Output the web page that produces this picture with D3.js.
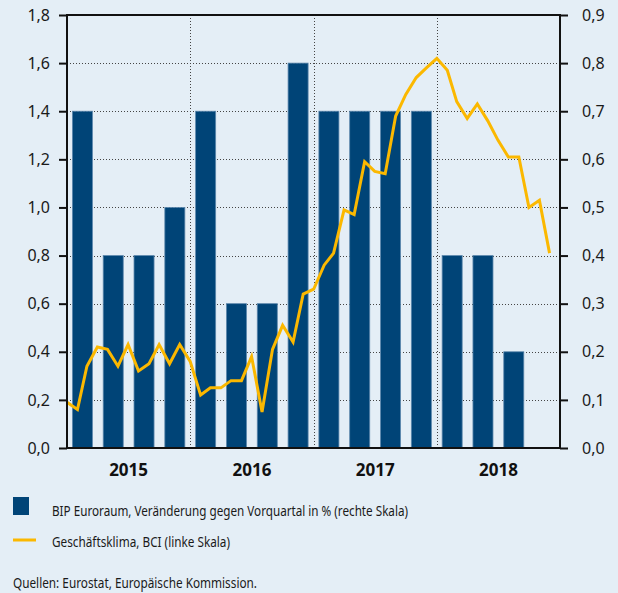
<!DOCTYPE html>
<html>
<head>
<meta charset="utf-8">
<script src="https://cdn.jsdelivr.net/npm/d3@7"></script>
<style>
  body { margin: 0; background: #e4eef6; }
  svg { display: block; }
  .tick text { font-family: "Noto Sans", sans-serif; font-size: 16px; fill: #1a1a1a; }
  .legend text { font-family: "Noto Sans", sans-serif; font-size: 15px; fill: #1a1a1a; }
</style>
</head>
<body>
<script>
// quarters (bars) and BIP growth in % (right scale)
var quarters = ["2015-Q1","2015-Q2","2015-Q3","2015-Q4","2016-Q1","2016-Q2","2016-Q3","2016-Q4",
                "2017-Q1","2017-Q2","2017-Q3","2017-Q4","2018-Q1","2018-Q2","2018-Q3","2018-Q4"];
var bipValues = [0.7, 0.4, 0.4, 0.5, 0.7, 0.3, 0.3, 0.8, 0.7, 0.7, 0.7, 0.7, 0.4, 0.4, 0.2];

// monthly business climate indicator (left scale), Jan 2015 onwards
var bciValues = [0.19, 0.16, 0.34, 0.42, 0.41, 0.34, 0.43, 0.32, 0.35, 0.43, 0.35, 0.43,
                 0.36, 0.22, 0.25, 0.25, 0.28, 0.28, 0.38, 0.15, 0.41, 0.51, 0.44, 0.64,
                 0.66, 0.76, 0.81, 0.99, 0.97, 1.19, 1.15, 1.14, 1.38, 1.47, 1.54, 1.58,
                 1.62, 1.57, 1.44, 1.37, 1.43, 1.36, 1.28, 1.21, 1.21, 1.00, 1.03, 0.81];

var years = ["2015", "2016", "2017", "2018"];
var leftTicks = [0, 0.2, 0.4, 0.6, 0.8, 1.0, 1.2, 1.4, 1.6, 1.8];
var rightTicks = [0, 0.1, 0.2, 0.3, 0.4, 0.5, 0.6, 0.7, 0.8, 0.9];

var width = 618, height = 593;
var pLeft = 67, pRight = 560, pTop = 15, pBottom = 448;

var svg = d3.select("body").append("svg").attr("width", width).attr("height", height);

var x = d3.scaleTime()
          .domain([new Date(2015, 0, 1), new Date(2019, 0, 1)])
          .range([pLeft, pRight]);
var xq = d3.scaleBand().domain(quarters).range([pLeft, pRight])
           .paddingInner(0.35).paddingOuter(0.175);
var yL = d3.scaleLinear().domain([0, 1.8]).range([pBottom, pTop]);
var yR = d3.scaleLinear().domain([0, 0.9]).range([pBottom, pTop]);

var fmt = function(d){ return d3.format(".1f")(d).replace(".", ","); };

// grid
var grid = svg.append("g").attr("stroke", "#444").attr("stroke-width", 1)
              .attr("stroke-dasharray", "1,2");
grid.selectAll("line.h").data(leftTicks.slice(1, -1)).enter().append("line")
    .attr("x1", pLeft).attr("x2", pRight)
    .attr("y1", function(d){ return Math.round(yL(d)) + 0.5; })
    .attr("y2", function(d){ return Math.round(yL(d)) + 0.5; });
grid.selectAll("line.v").data(years.slice(1)).enter().append("line")
    .attr("y1", pTop).attr("y2", pBottom)
    .attr("x1", function(d){ return Math.round(x(new Date(+d, 0, 1))) + 0.5; })
    .attr("x2", function(d){ return Math.round(x(new Date(+d, 0, 1))) + 0.5; });

// bars
svg.append("g").selectAll("rect").data(bipValues).enter().append("rect")
    .attr("x", function(d, i){ return xq(quarters[i]); })
    .attr("width", xq.bandwidth())
    .attr("y", function(d){ return yR(d); })
    .attr("height", function(d){ return pBottom - yR(d); })
    .attr("fill", "#004477")
    .attr("stroke", "#5d88ad").attr("stroke-width", 0.8);

// line
var months = d3.timeMonth.range(new Date(2015, 0, 1), new Date(2015, bciValues.length, 1));
var line = d3.line()
             .x(function(d, i){ return x(months[i]); })
             .y(function(d){ return yL(d); });
svg.append("path").datum(bciValues)
   .attr("fill", "none").attr("stroke", "#fbb800")
   .attr("stroke-width", 3).attr("stroke-linejoin", "miter")
   .attr("d", line);

// axes
var axL = svg.append("g").attr("transform", "translate(" + pLeft + ",0)")
   .call(d3.axisLeft(yL).tickValues(leftTicks).tickFormat(fmt).tickSize(8).tickPadding(9));
var axR = svg.append("g").attr("transform", "translate(" + pRight + ",0)")
   .call(d3.axisRight(yR).tickValues(rightTicks).tickFormat(fmt).tickSize(8).tickPadding(14));
[axL, axR].forEach(function(a){
  a.select(".domain").remove();
  a.selectAll(".tick line").attr("stroke", "#111").attr("stroke-width", 2);
});

var frame = svg.append("g").attr("stroke", "#111").attr("stroke-width", 2);
frame.append("line").attr("x1", pLeft).attr("x2", pLeft).attr("y1", pTop - 1).attr("y2", pBottom + 1);
frame.append("line").attr("x1", pRight).attr("x2", pRight).attr("y1", pTop - 1).attr("y2", pBottom + 1);
frame.append("line").attr("x1", pLeft).attr("x2", pRight).attr("y1", pTop).attr("y2", pTop);
frame.append("line").attr("x1", pLeft).attr("x2", pRight).attr("y1", pBottom).attr("y2", pBottom);

// year labels
svg.append("g").selectAll("text").data(years).enter().append("text")
   .attr("x", function(d){ return (x(new Date(+d, 0, 1)) + x(new Date(+d + 1, 0, 1))) / 2; })
   .attr("y", 476)
   .attr("text-anchor", "middle")
   .style("font-family", "'Noto Sans', sans-serif")
   .style("font-weight", "bold").style("font-size", "17px").style("fill", "#111")
   .text(function(d){ return d; });

// legend (condensed look via textLength)
var lg = svg.append("g").attr("class", "legend");
lg.append("rect").attr("x", 13).attr("y", 497).attr("width", 16).attr("height", 18).attr("fill", "#004477");
lg.append("text").attr("x", 52).attr("y", 516)
  .attr("textLength", 356).attr("lengthAdjust", "spacingAndGlyphs")
  .text("BIP Euroraum, Veränderung gegen Vorquartal in % (rechte Skala)");
lg.append("line").attr("x1", 13).attr("x2", 36).attr("y1", 540).attr("y2", 540)
  .attr("stroke", "#fbb800").attr("stroke-width", 3);
lg.append("text").attr("x", 52).attr("y", 547)
  .attr("textLength", 178).attr("lengthAdjust", "spacingAndGlyphs")
  .text("Geschäftsklima, BCI (linke Skala)");
lg.append("text").attr("x", 13).attr("y", 588)
  .attr("textLength", 244).attr("lengthAdjust", "spacingAndGlyphs")
  .text("Quellen: Eurostat, Europäische Kommission.");
</script>
</body>
</html>
